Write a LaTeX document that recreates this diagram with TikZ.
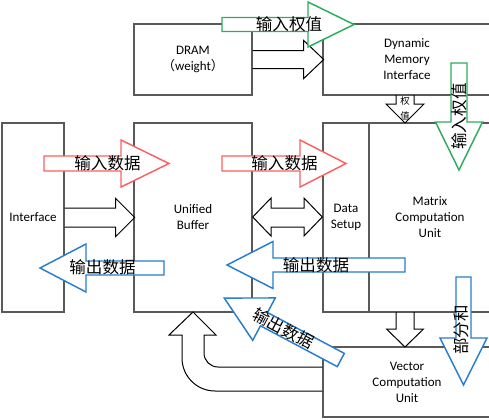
\documentclass[tikz,border=0pt]{standalone}
\usepackage{fontspec}
\setmainfont{Carlito}
\newfontfamily\cjk{Noto Sans CJK SC}
\definecolor{boxgray}{RGB}{89,89,89}
\definecolor{agreen}{RGB}{45,172,95}
\definecolor{ared}{RGB}{255,95,95}
\definecolor{ablue}{RGB}{40,125,205}
\tikzset{
  box/.style={draw=boxgray, line width=1.1pt, align=center, inner sep=0pt,
    font=\fontsize{9.75}{12}\selectfont},
  blk/.style={draw=black, line width=0.75pt},
  garrow/.style={draw=agreen, fill=white, line width=1.1pt},
  rarrow/.style={draw=ared, fill=white, line width=1.1pt},
  barrowst/.style={draw=ablue, fill=white, line width=1.1pt},
  lbl/.style={font=\cjk\fontsize{12.4}{14}\selectfont, inner sep=0pt},
  pics/openarrow/.style n args={5}{code={%
    \draw[#5] (0,#2) -- ({#1-#4},#2) -- ({#1-#4},#3) -- (#1,0)
      -- ({#1-#4},-#3) -- ({#1-#4},-#2) -- (0,-#2);
  }},
  pics/closedarrow/.style n args={5}{code={%
    \draw[#5] (0,#2) -- ({#1-#4},#2) -- ({#1-#4},#3) -- (#1,0)
      -- ({#1-#4},-#3) -- ({#1-#4},-#2) -- (0,-#2) -- cycle;
  }},
}
\begin{document}
\begin{tikzpicture}[x=0.75pt,y=-0.75pt]
\useasboundingbox (0,0) rectangle (489,419);
\clip (0,0) rectangle (489,419);

% boxes
\node[box, minimum width=118*0.75pt, minimum height=71*0.75pt] (dram) at (193,59.5)
  {DRAM\\{\cjk （}weight{\cjk ）}};
\node[box, minimum width=168*0.75pt, minimum height=71*0.75pt] (dmi) at (407,59.5)
  {Dynamic\\Memory\\Interface};
\node[box, minimum width=62*0.75pt, minimum height=189*0.75pt] (intf) at (33,217.5)
  {Interface};
\node[box, minimum width=118*0.75pt, minimum height=189*0.75pt] (ub) at (193,217.5)
  {Unified\\Buffer};
\node[box, minimum width=46*0.75pt, minimum height=189*0.75pt] (ds) at (346,217.5)
  {Data\\Setup};
\node[box, minimum width=122*0.75pt, minimum height=189*0.75pt] (mcu) at (430,217.5)
  {Matrix\\Computation\\Unit};
\node[box, minimum width=168*0.75pt, minimum height=70*0.75pt] (vcu) at (407,382)
  {Vector\\Computation\\Unit};

% black block arrows
\pic at (dram.east) {openarrow={71}{9}{19}{20}{blk}};
\pic at (intf.east) {openarrow={70}{9.5}{19}{19}{blk}};
\pic[rotate=-90] at (405,95) {openarrow={28}{9}{19}{19}{blk}};
\pic[rotate=-90] at (405,312) {openarrow={35}{9}{18.5}{18}{blk}};
\draw[blk] (ub.east |- 0,217) -- (271,198) -- (271,208) -- (304,208) -- (304,198)
  -- (ds.west |- 0,217) -- (304,236) -- (304,227) -- (271,227) -- (271,236) -- cycle;
\draw[blk] (vcu.west |- 0,367) -- (218,367) .. controls (210.3,367) and (204,360.7) .. (204,353)
  -- (204,335) -- (216,335) -- (193,312) -- (169,335) -- (182,335) -- (182,358)
  .. controls (182,376.2) and (196.8,391) .. (215,391) -- (vcu.west |- 0,391);
\node[font=\cjk\fontsize{7}{11.25}\selectfont, align=center, inner sep=0pt] (wv) at (405,108.5) {权\\值};

% coloured labelled arrows
\pic at (222,24.5) {closedarrow={132}{7}{22.5}{46}{garrow}};
\node[lbl] (g1) at (289,24) {输入权值};
\pic[rotate=-90] at (459,63) {closedarrow={107}{8}{23.5}{48}{garrow}};
\node[lbl, rotate=90] (g2) at (459,116.5) {输入权值};
\pic at (44,163.5) {closedarrow={125}{7.5}{23.5}{48}{rarrow}};
\node[lbl] (r1) at (107.5,163) {输入数据};
\pic at (222,163.5) {closedarrow={124}{7.5}{23.5}{46}{rarrow}};
\node[lbl] (r2) at (284.5,163) {输入数据};
\pic[rotate=180] at (164,268) {closedarrow={124}{7}{24}{46}{barrowst}};
\node[lbl] (b1) at (102.5,267) {输出数据};
\pic[rotate=180] at (405,265) {closedarrow={178}{7}{23.5}{46}{barrowst}};
\node[lbl] (b2) at (316,265) {输出数据};
\pic[rotate=-90] at (463.5,277) {closedarrow={108}{7.5}{23.5}{47}{barrowst}};
\node[lbl, rotate=90] (b4) at (461,330) {部分和};
\pic[rotate=152] at (340.8,360) {closedarrow={132}{7.5}{24}{45}{barrowst}};
\node[lbl, rotate=-28] (b3) at (283.5,328.5) {输出数据};
\end{tikzpicture}
\end{document}
